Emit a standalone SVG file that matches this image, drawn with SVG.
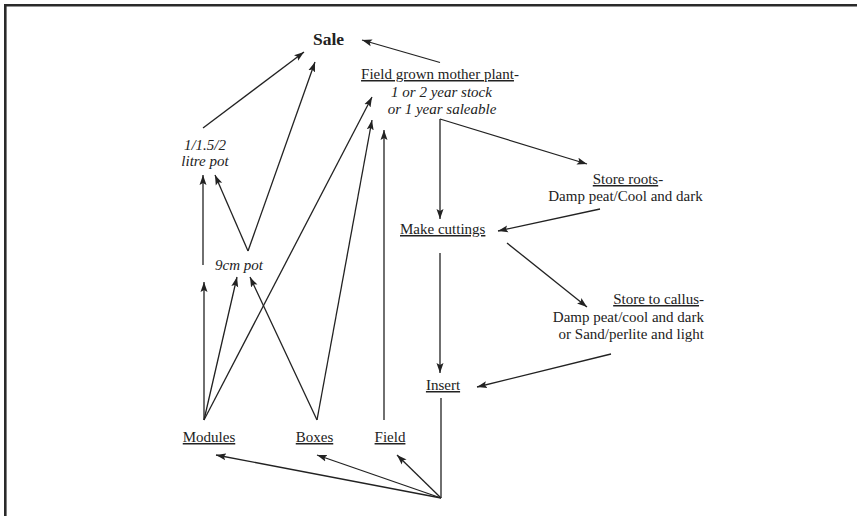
<svg xmlns="http://www.w3.org/2000/svg" width="857" height="516" viewBox="0 0 857 516">
<style>
  text { font-family: "Liberation Serif", "Times New Roman", serif; font-size: 15px; fill: #222; }
  .b { font-weight: bold; font-size: 17.5px; }
  .i { font-style: italic; }
  .u { text-decoration: underline; }
  .c line { stroke: #222; stroke-width: 1.3; fill: none; }
  .c .a { marker-end: url(#ah); }
</style>
<defs>
  <marker id="ah" markerUnits="userSpaceOnUse" markerWidth="11" markerHeight="8" refX="10" refY="4" orient="auto">
    <path d="M0,0.5 L10,4 L0,7.5 L2,4 z" fill="#222"/>
  </marker>
</defs>
<rect width="857" height="516" fill="#fff"/>
<path d="M5.3,516 V5.3 H857" fill="none" stroke="#2a2a2a" stroke-width="2.6"/>

<g id="sale"><text class="b" x="328.5" y="45" text-anchor="middle">Sale</text></g>
<g id="mother">
  <text x="440" y="79" text-anchor="middle"><tspan class="u">Field grown mother plant</tspan>-</text>
  <text class="i" x="441.5" y="97" text-anchor="middle">1 or 2 year stock</text>
  <text class="i" x="442" y="114" text-anchor="middle">or 1 year saleable</text>
</g>
<g id="litre">
  <text class="i" x="205" y="150" text-anchor="middle">1/1.5/2</text>
  <text class="i" x="205" y="166" text-anchor="middle">litre pot</text>
</g>
<g id="pot9"><text class="i" x="239" y="270" text-anchor="middle">9cm pot</text></g>
<g id="storeroots">
  <text x="628" y="184" text-anchor="middle"><tspan class="u">Store roots</tspan>-</text>
  <text x="625.5" y="200.5" text-anchor="middle">Damp peat/Cool and dark</text>
</g>
<g id="cuttings"><text class="u" x="400" y="234">Make cuttings</text></g>
<g id="callus">
  <text x="704" y="304" text-anchor="end"><tspan class="u">Store to callus</tspan>-</text>
  <text x="704" y="322" text-anchor="end">Damp peat/cool and dark</text>
  <text x="704" y="339" text-anchor="end">or Sand/perlite and light</text>
</g>
<g id="insert"><text class="u" x="443" y="390" text-anchor="middle">Insert</text></g>
<g id="modules"><text class="u" x="209" y="442" text-anchor="middle">Modules</text></g>
<g id="boxes"><text class="u" x="314.5" y="442" text-anchor="middle">Boxes</text></g>
<g id="field"><text class="u" x="390" y="442" text-anchor="middle">Field</text></g>

<g id="connectors" class="c">
  <line class="a" x1="440" y1="62.5" x2="362" y2="40"/>
  <line class="a" x1="203" y1="128" x2="304" y2="52"/>
  <line class="a" x1="248" y1="251" x2="215" y2="175"/>
  <line class="a" x1="248" y1="251" x2="315" y2="62"/>
  <line class="a" x1="203" y1="265" x2="203" y2="175"/>
  <line class="a" x1="204" y1="420" x2="204" y2="282"/>
  <line class="a" x1="204" y1="420" x2="237" y2="277"/>
  <line class="a" x1="317" y1="420" x2="250" y2="277"/>
  <line class="a" x1="204" y1="420" x2="372" y2="97"/>
  <line class="a" x1="317" y1="420" x2="372" y2="120"/>
  <line class="a" x1="384" y1="420" x2="384" y2="130"/>
  <line class="a" x1="440" y1="119" x2="440" y2="219"/>
  <line class="a" x1="440" y1="119" x2="587" y2="164"/>
  <line class="a" x1="600" y1="209" x2="498" y2="231"/>
  <line class="a" x1="440" y1="253" x2="440" y2="373"/>
  <line class="a" x1="507" y1="243" x2="587" y2="307"/>
  <line class="a" x1="611" y1="354" x2="477" y2="387"/>
  <line x1="441" y1="398" x2="441" y2="498"/>
  <line class="a" x1="441" y1="498" x2="216" y2="455"/>
  <line class="a" x1="441" y1="498" x2="317" y2="455"/>
  <line class="a" x1="441" y1="498" x2="397" y2="455"/>
</g>
</svg>
